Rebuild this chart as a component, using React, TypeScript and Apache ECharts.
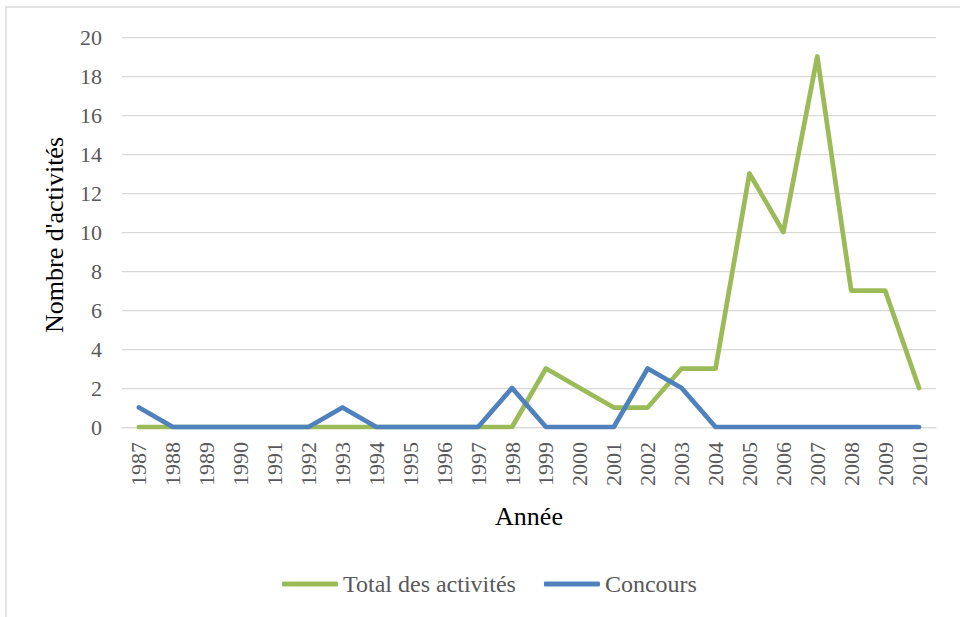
import React, { useEffect, useRef } from "react";
import * as echarts from "echarts";

const years = [
  "1987", "1988", "1989", "1990", "1991", "1992", "1993", "1994", "1995", "1996", "1997", "1998",
  "1999", "2000", "2001", "2002", "2003", "2004", "2005", "2006", "2007", "2008", "2009", "2010",
];
const totalActivites = [0, 0, 0, 0, 0, 0, 0, 0, 0, 0, 0, 0, 3, 2, 1, 1, 3, 3, 13, 10, 19, 7, 7, 2];
const concours = [1, 0, 0, 0, 0, 0, 1, 0, 0, 0, 0, 2, 0, 0, 0, 3, 2, 0, 0, 0, 0, 0, 0, 0];
const seriesNames = ["Total des activités", "Concours"];
const xTitle = "Année";
const yTitle = "Nombre d'activités";

const FONT = "Times New Roman, Liberation Serif, serif";
const GREEN = "#9BBB59";
const BLUE = "#4F81BD";

export default function App() {
  const ref = useRef<HTMLDivElement>(null);
  useEffect(() => {
    if (!ref.current) return;
    const chart = echarts.init(ref.current, undefined, { renderer: "svg" });
    chart.setOption({
      animation: false,
      backgroundColor: "#ffffff",
      textStyle: { fontFamily: FONT },
      grid: { left: 122, right: 24, top: 37, bottom: 190, containLabel: false },
      graphic: [
        {
          type: "rect",
          shape: { x: 6, y: 7, width: 980, height: 640 },
          style: { fill: "none", stroke: "#d9d9d9", lineWidth: 1.5 },
          silent: true,
          z: 0,
        },
        {
          type: "text",
          x: 54,
          y: 235,
          rotation: Math.PI / 2,
          style: {
            text: yTitle,
            fontFamily: FONT,
            fontSize: 26,
            fill: "#000000",
            align: "center",
            verticalAlign: "middle",
          },
        },
        {
          type: "text",
          x: 529,
          y: 516,
          style: {
            text: xTitle,
            fontFamily: FONT,
            fontSize: 26,
            fill: "#000000",
            align: "center",
            verticalAlign: "middle",
          },
        },
      ],
      legend: {
        left: 277,
        top: 567,
        itemWidth: 56,
        itemHeight: 5,
        itemGap: 28,
        icon: "roundRect",
        textStyle: { fontFamily: FONT, fontSize: 24, color: "#595959" },
        data: seriesNames,
      },
      xAxis: {
        type: "category",
        data: years,
        boundaryGap: true,
        axisLine: { show: true, lineStyle: { color: "#d9d9d9", width: 1.25 } },
        axisTick: { show: false },
        axisLabel: {
          rotate: 90,
          interval: 0,
          margin: 15,
          fontFamily: FONT,
          fontSize: 22,
          color: "#595959",
        },
      },
      yAxis: {
        type: "value",
        min: 0,
        max: 20,
        interval: 2,
        axisLine: { show: false },
        axisTick: { show: false },
        axisLabel: { margin: 20, fontFamily: FONT, fontSize: 22, color: "#595959" },
        splitLine: { lineStyle: { color: "#d9d9d9", width: 1.25 } },
      },
      series: [
        {
          name: seriesNames[0],
          type: "line",
          data: totalActivites,
          showSymbol: false,
          symbol: "none",
          itemStyle: { color: GREEN },
          lineStyle: { color: GREEN, width: 4.75, cap: "round", join: "round" },
          z: 2,
        },
        {
          name: seriesNames[1],
          type: "line",
          data: concours,
          showSymbol: false,
          symbol: "none",
          itemStyle: { color: BLUE },
          lineStyle: { color: BLUE, width: 4.75, cap: "round", join: "round" },
          z: 3,
        },
      ],
    });
    return () => chart.dispose();
  }, []);
  return (
    <div
      ref={ref}
      style={{ position: "fixed", left: 0, top: 0, width: 960, height: 617 }}
    />
  );
}
